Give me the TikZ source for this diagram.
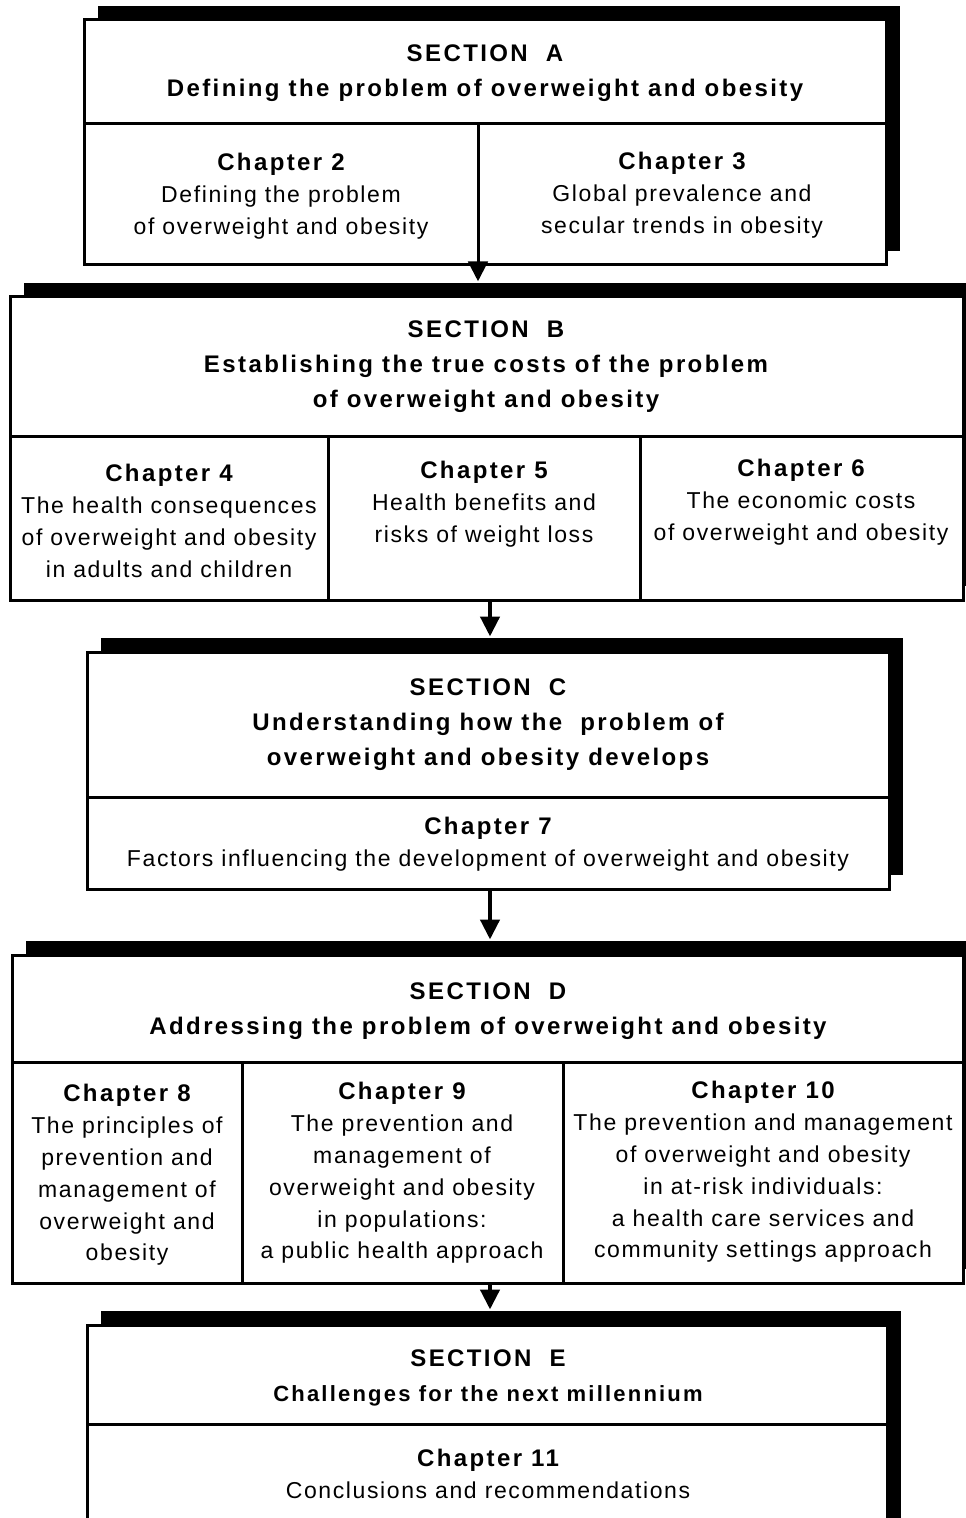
\documentclass[tikz,border=0pt]{standalone}
\usepackage{fontspec}
\setmainfont{Liberation Sans}
\newfontfamily\bodyfont[LetterSpace=7]{Liberation Sans}
\newfontfamily\headfont[LetterSpace=10]{Liberation Sans}
\newcommand{\chaphead}[1]{{\headfont\bfseries\fontsize{12}{16}\selectfont #1}}
\usetikzlibrary{arrows.meta, shadows, fit}

\begin{document}
\begin{tikzpicture}[
    x=0.5pt, y=-0.5pt,
    sect/.style={draw, line width=1.5pt, fill=white, inner sep=0pt,
        drop shadow={shadow xshift=7pt, shadow yshift=7pt, fill=black, opacity=1}},
    rule/.style={line width=1.5pt},
    flow/.style={line width=2.2pt, -{Triangle[width=9.5pt, length=10pt]}},
    head/.style={font=\headfont\bfseries\fontsize{12}{17.5}\selectfont, align=center},
    chap/.style={font=\bodyfont\fontsize{11.5}{15.9}\selectfont, align=center}
]
\useasboundingbox (0,0) rectangle (965,1518);

% section frames
\node[sect, fit={(84,20) (886,265)}] (secA) {};
\node[sect, fit={(10,297) (963,600)}] (secB) {};
\node[sect, fit={(87,652) (889,889)}] (secC) {};
\node[sect, fit={(12,955) (963,1283)}] (secD) {};
\node[sect, fit={(87,1325) (887,1545)}] (secE) {};

% inner rules
\draw[rule] (84,124) -- (886,124);
\draw[rule] (478,124) -- (478,265);
\draw[rule] (10,436) -- (963,436);
\draw[rule] (328,436) -- (328,600);
\draw[rule] (640,436) -- (640,600);
\draw[rule] (87,797) -- (889,797);
\draw[rule] (12,1062) -- (963,1062);
\draw[rule] (242,1062) -- (242,1283);
\draw[rule] (563,1062) -- (563,1283);
\draw[rule] (87,1424) -- (887,1424);

% section A
\node[head] (headA) at (485,73) {SECTION\ \ A\\Defining the problem of overweight and obesity};
\node[chap] (ch2) at (281,196) {\chaphead{Chapter 2}\\Defining the problem\\of overweight and obesity};
\node[chap] (ch3) at (682,195) {\chaphead{Chapter 3}\\Global prevalence and\\secular trends in obesity};

% section B
\node[head] (headB) at (486,367) {SECTION\ \ B\\Establishing the true costs of the problem\\of overweight and obesity};
\node[chap] (ch4) at (169,521) {\chaphead{Chapter 4}\\The health consequences\\of overweight and obesity\\in adults and children};
\node[chap] (ch5) at (484,504) {\chaphead{Chapter 5}\\Health benefits and\\risks of weight loss};
\node[chap] (ch6) at (801,502) {\chaphead{Chapter 6}\\The economic costs\\of overweight and obesity};

% section C
\node[head] (headC) at (488,725) {SECTION\ \ C\\Understanding how the\ \ problem of\\overweight and obesity develops};
\node[chap] (ch7) at (488,844) {\chaphead{Chapter 7}\\Factors influencing the development of overweight and obesity};

% section D
\node[head] (headD) at (488,1011) {SECTION\ \ D\\Addressing the problem of overweight and obesity};
\node[chap] (ch8) at (127,1175) {\chaphead{Chapter 8}\\The principles of\\prevention and\\management of\\overweight and\\obesity};
\node[chap] (ch9) at (402,1173) {\chaphead{Chapter 9}\\The prevention and\\management of\\overweight and obesity\\in populations:\\a public health approach};
\node[chap] (ch10) at (763,1172) {\chaphead{Chapter 10}\\The prevention and management\\of overweight and obesity\\in at-risk individuals:\\a health care services and\\community settings approach};

% section E
\node[head] (headE) at (488,1378) {SECTION\ \ E\\{\fontsize{11}{17}\selectfont Challenges for the next millennium}};
\node[chap] (ch11) at (488,1474) {\chaphead{Chapter 11}\\Conclusions and recommendations};

% flow between sections
\draw[flow] (secA.south -| 478,0) -- ([yshift=7pt]secB.north -| 478,0);
\draw[flow] (secB.south -| 490,0) -- ([yshift=7pt]secC.north -| 490,0);
\draw[flow] (secC.south -| 490,0) -- ([yshift=7pt]secD.north -| 490,0);
\draw[flow] (secD.south -| 490,0) -- ([yshift=7pt]secE.north -| 490,0);

\end{tikzpicture}
\end{document}
